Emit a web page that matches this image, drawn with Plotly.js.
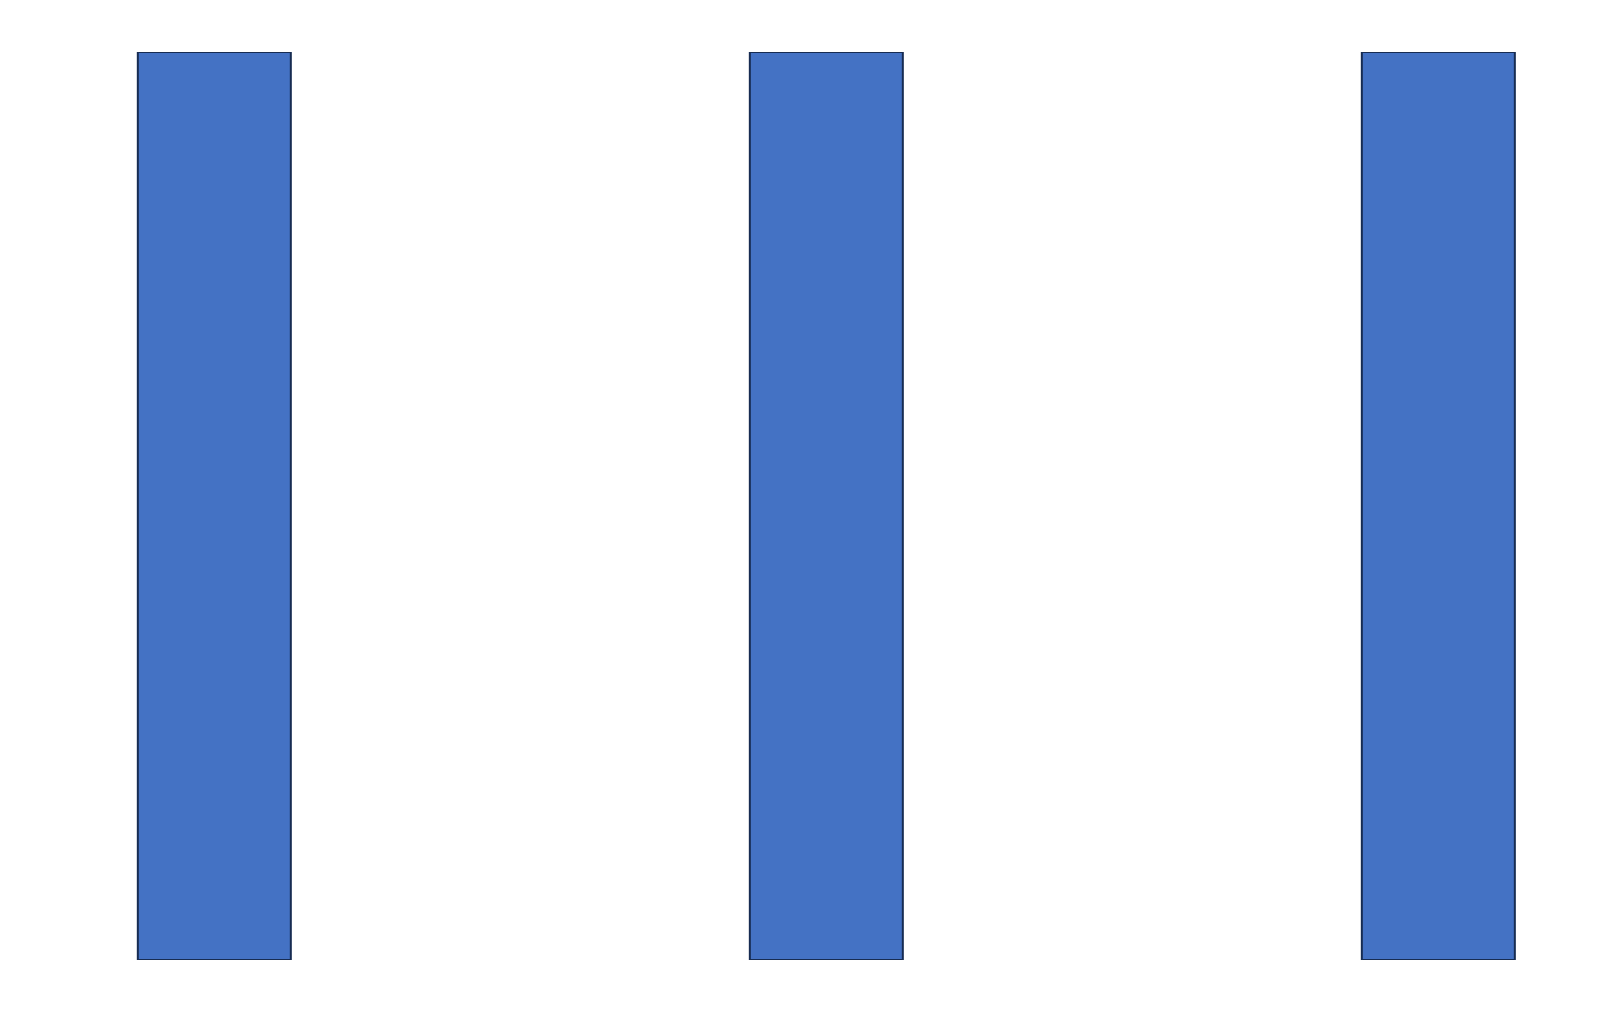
<!DOCTYPE html>
<html>
<head>
<meta charset="utf-8">
<script src="https://cdn.plot.ly/plotly-3.0.1.min.js"></script>
<style>
  html, body { margin: 0; padding: 0; background: #ffffff; }
  #chart { width: 1616px; height: 1020px; }
</style>
</head>
<body>
<div id="chart"></div>
<script>
// three equal columns, no labels shown in the picture
var categories = ["A", "B", "C"];
var values = [1, 1, 1];

var trace = {
  type: "bar",
  x: categories,
  y: values,
  width: 0.25,
  marker: { color: "#4472c4", line: { color: "#172c52", width: 2 } },
  hoverinfo: "none"
};

var layout = {
  width: 1616,
  height: 1020,
  margin: { l: 0, r: 0, t: 52, b: 60 },
  paper_bgcolor: "#ffffff",
  plot_bgcolor: "#ffffff",
  showlegend: false,
  xaxis: {
    type: "category",
    range: [-0.3502, 2.2903],
    showticklabels: false, showgrid: false, zeroline: false, showline: false, ticks: ""
  },
  yaxis: {
    range: [0, 1],
    showticklabels: false, showgrid: false, zeroline: false, showline: false, ticks: ""
  }
};

Plotly.newPlot("chart", [trace], layout, { displayModeBar: false, staticPlot: true });
</script>
</body>
</html>
